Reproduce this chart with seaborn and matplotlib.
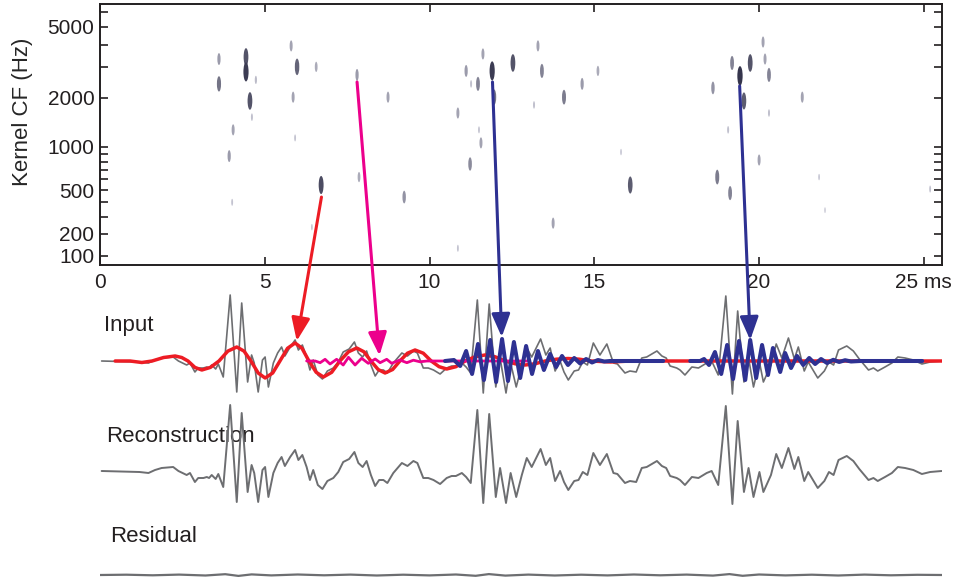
import numpy as np
import pandas as pd
import matplotlib
matplotlib.use('Agg')
import matplotlib.pyplot as plt
from matplotlib.path import Path
from matplotlib.transforms import Affine2D
from matplotlib.colors import LinearSegmentedColormap
import seaborn as sns

# --- spike raster: time (ms), kernel centre frequency (Hz), relative amplitude
spike_t = [3.61, 3.61, 4.43, 4.43, 4.73, 4.55, 4.61, 4.04, 3.92, 4.01,
           5.80, 5.98, 6.56, 5.86, 5.92, 6.71, 7.80, 7.86, 8.74, 9.23,
           11.11, 11.26, 11.47, 10.86, 11.50, 11.23, 10.86, 6.43, 11.62, 11.90,
           11.96, 12.53, 13.29, 13.41, 13.17, 14.08, 14.63, 15.11, 11.56, 13.75,
           16.09, 15.81, 18.60, 19.18, 19.42, 19.54, 19.73, 20.12, 20.18, 20.30,
           20.30, 21.31, 19.06, 18.73, 19.12, 20.00, 21.82, 22.00, 25.19]
spike_f = [3320, 2400, 3410, 2810, 2530, 1910, 1530, 1280, 870, 400,
           3930, 3000, 3000, 2010, 1140, 546, 2700, 624, 2010, 441,
           2845, 2400, 2400, 1620, 1280, 770, 132, 237, 3545, 2845,
           2010, 3155, 3930, 2845, 1810, 2010, 2400, 2845, 1060, 260,
           546, 925, 2275, 3155, 2664, 1910, 3155, 4130, 3320, 2700,
           1620, 2010, 1280, 624, 474, 819, 624, 343, 509]
spike_amp = [0.35, 0.6, 0.8, 0.95, 0.15, 0.8, 0.12, 0.3, 0.35, 0.1,
             0.3, 0.7, 0.25, 0.3, 0.1, 0.85, 0.35, 0.25, 0.3, 0.4,
             0.35, 0.12, 0.5, 0.3, 0.1, 0.45, 0.1, 0.08, 0.3, 0.95,
             0.6, 0.8, 0.3, 0.5, 0.12, 0.55, 0.35, 0.25, 0.3, 0.3,
             0.75, 0.08, 0.4, 0.5, 1.0, 0.75, 0.8, 0.3, 0.3, 0.5,
             0.12, 0.3, 0.12, 0.55, 0.5, 0.3, 0.08, 0.06, 0.1]

# --- reconstruction waveform (ms, amplitude)
rec_t = [0.05, 1.20, 1.47, 1.67, 1.87, 2.22, 2.38, 2.63, 2.73, 2.88,
         2.98, 3.14, 3.24, 3.31, 3.39, 3.51, 3.59, 3.74, 3.95, 4.15,
         4.30, 4.48, 4.60, 4.68, 4.80, 4.93, 5.01, 5.11, 5.26, 5.39,
         5.51, 5.61, 5.77, 5.92, 6.02, 6.14, 6.27, 6.37, 6.47, 6.61,
         6.75, 6.90, 7.08, 7.23, 7.38, 7.56, 7.72, 7.84, 7.97, 8.09,
         8.22, 8.35, 8.47, 8.60, 8.72, 8.90, 9.16, 9.33, 9.51, 9.63,
         9.81, 9.96, 10.12, 10.32, 10.52, 10.67, 10.80, 10.98, 11.11, 11.25,
         11.45, 11.63, 11.81, 12.01, 12.14, 12.32, 12.46, 12.63, 12.80, 12.95,
         13.10, 13.37, 13.53, 13.66, 13.81, 13.96, 14.08, 14.21, 14.39, 14.52,
         14.65, 14.79, 14.97, 15.17, 15.38, 15.58, 15.70, 15.93, 16.08, 16.27,
         16.44, 16.59, 16.90, 17.05, 17.18, 17.30, 17.50, 17.60, 17.75, 17.96,
         18.16, 18.41, 18.56, 18.76, 18.99, 19.19, 19.35, 19.54, 19.68, 19.83,
         20.01, 20.13, 20.36, 20.52, 20.69, 20.89, 21.07, 21.19, 21.37, 21.49,
         21.78, 21.98, 22.12, 22.26, 22.41, 22.66, 22.86, 23.04, 23.32, 23.47,
         23.60, 23.82, 24.03, 24.21, 24.43, 24.68, 24.94, 25.19, 25.54]
rec_a = [0, -1, -2, 1, 3, 4, 0, -4, -2, -11,
         -7, -7, -6, -7, -4, -8, -3, -16, 66, -31,
         58, -21, 6, -2, -31, 1, 4, -26, -2, 8,
         14, 5, 14, 21, 11, 16, 4, -9, 1, -14,
         -18, -10, -7, -1, 9, 12, 19, 8, 4, 10,
         -4, -15, -9, -9, -12, -2, 8, 5, 10, 8,
         -7, -7, -9, -13, -7, -5, -5, -2, -6, -12,
         61, -32, 57, -26, 3, -32, -2, -26, -4, 13,
         4, 22, 6, 13, -10, 0, -11, -19, -10, -9,
         -1, -4, 18, 6, 17, -2, -3, -12, -10, -11,
         3, 4, 10, 5, 3, -5, -7, -9, -14, -6,
         -7, -2, 0, -14, 65, -33, 50, -21, 3, -26,
         -1, -21, -4, 17, 3, 23, 2, 14, -10, -1,
         -17, -10, -1, -4, 11, 15, 10, 2, -9, -7,
         -10, -6, -2, 4, 3, 1, -3, -1, 0]

# --- residual
res_t = [0, 0.8, 1.6, 2.4, 3.2, 3.8, 4.2, 4.6, 5.2, 6.0,
         6.8, 7.6, 8.4, 9.2, 10.0, 10.8, 11.4, 11.8, 12.3, 13.0,
         13.8, 14.6, 15.4, 16.2, 17.0, 17.8, 18.6, 19.1, 19.5, 20.0,
         20.8, 21.6, 22.4, 23.2, 24.0, 24.8, 25.55]
res_a = [0, 0.3, -0.3, 0.4, -0.5, 0.8, -0.9, 0.6, -0.4, 0.5,
         -0.3, 0.4, -0.5, 0.3, -0.4, 0.5, -0.8, 0.9, -0.6, 0.4,
         -0.5, 0.3, -0.4, 0.5, -0.3, 0.4, -0.6, 0.9, -0.8, 0.5,
         -0.4, 0.3, -0.5, 0.4, -0.3, 0.2, 0]

# --- kernels overlaid on the input
red_t = [0.46, 0.91, 1.27,
         1.58, 1.93, 2.28, 2.48, 2.67, 2.88, 3.09, 3.35,
         3.61, 3.88, 4.15, 4.37, 4.58, 4.80, 5.01, 5.24,
         5.46, 5.69, 5.92, 6.13, 6.34, 6.56, 6.78, 7.03,
         7.28, 7.54, 7.79, 8.01, 8.22, 8.44, 8.65, 8.88,
         9.10, 9.33, 9.56, 9.81, 10.05, 10.29, 10.52, 10.80,
         11.08, 11.38, 11.68, 11.99, 12.29, 12.60, 12.90, 13.20,
         13.51, 13.85, 14.20, 14.55, 14.90, 15.50, 16.10, 25.55]
red_a = [0, 0, -1.5,
         0, 3.5, 5, 3.5, 0, -6.4, -9, -6.4,
         0, 9.9, 14, 9.9, 0, -12, -17, -12,
         0, 12.7, 18, 12.7, 0, -11.3, -16, -11.3,
         0, 9.2, 13, 9.2, 0, -8.5, -12, -8.5,
         0, 7.8, 11, 7.8, 0, -5.7, -8, -5.7,
         0, 4.2, 6, 4.2, 0, -2.8, -4, -2.8,
         0, 1.8, 2.5, 1.8, 0, -1, 0, 0]

pink_t = [6.27, 6.53, 6.68, 6.83, 6.98, 7.18, 7.38, 7.54, 7.74, 7.94,
          8.14, 8.35, 8.50, 8.70, 8.85, 9.10, 9.31, 9.51, 9.71, 9.92, 12.99]
pink_a = [0, 0, -1.7, 1.7, -3, 1.7, -4, 3.7, -4, 2.7,
          -2.3, 2, -1.7, 1.7, -2.3, 1, -1.7, 0.8, -0.8, 0, 0]

blue1_t = [10.47, 10.74, 10.93, 11.11, 11.29, 11.47, 11.65, 11.84, 12.02, 12.20,
           12.38, 12.56, 12.75, 12.93, 13.11, 13.29, 13.47, 13.66, 13.84, 14.02,
           14.20, 14.39, 14.57, 14.75, 14.93, 15.11, 15.30, 15.48, 17.09]
blue1_a = [0, 1, -5, 10, -13, 17, -19, 21, -21, 22,
           -20, 19, -17, 15, -13, 10, -9, 7, -6, 5,
           -4, 3, -2.5, 2, -1.5, 1, -0.5, 0, 0]

blue2_t = [17.91, 18.21, 18.33, 18.48, 18.66, 18.85, 19.03, 19.21, 19.39, 19.58,
           19.73, 19.91, 20.09, 20.27, 20.42, 20.64, 20.79, 20.97, 21.15, 21.34,
           21.52, 21.70, 21.88, 22.06, 22.25, 22.43, 22.61, 22.79, 23.07, 24.95]
blue2_a = [0, 0, 2, -4, 9, -13, 16, -18, 20, -19,
           21, -17, 16, -14, 13, -11, 8, -7, 5, -4,
           3, -3, 2, -2, 1.2, -1, 0.8, -0.5, 0, 0]

# arrows: from a spike (ms, Hz) to the kernel in the input (ms, amplitude)
arrow_from_t = [6.72, 7.80, 11.91, 19.41]
arrow_from_f = [441, 2460, 2460, 2333]
arrow_to_t = [5.97, 8.48, 12.19, 19.73]
arrow_to_a = [20, 5.5, 24, 21]

RED, PINK, BLUE, GRAY = '#ED1C24', '#EC008C', '#2E3192', '#6D6E71'
arrow_cols = [RED, PINK, BLUE, BLUE]

sns.set_style('ticks')
plt.rcParams['font.family'] = ['Liberation Sans', 'DejaVu Sans']

W, H = 956, 577
fig = plt.figure(figsize=(W / 100, H / 100), dpi=100)


def rect(l, t, r, b):
    return [l / W, 1 - b / H, (r - l) / W, (b - t) / H]


def erb(f):
    return 21.4 * np.log10(1 + 0.00437 * np.clip(f, 1, None))


def erb_inv(e):
    return (10 ** (np.asarray(e) / 21.4) - 1) / 0.00437


# spike plot
ax = fig.add_axes(rect(100, 4, 942, 265))
ax.set_yscale('function', functions=(erb, erb_inv))

spikes = pd.DataFrame({'t': spike_t, 'f': spike_f, 'amp': spike_amp})
ell = Path.unit_circle().transformed(Affine2D().scale(0.27, 1.0))
cmap = LinearSegmentedColormap.from_list('spk', ['#d2d2de', '#35354c'])
sns.scatterplot(data=spikes, x='t', y='f', hue='amp', size='amp',
                palette=cmap, hue_norm=(0, 1), sizes=(6, 200), size_norm=(0, 1),
                marker=ell, edgecolor='none', linewidth=0, legend=False, ax=ax)

ax.set_xlim(0, 25.55)
ax.set_ylim(66, 6670)
ax.set_xticks([0, 5, 10, 15, 20, 25])
ax.set_xticklabels(['0', '5', '10', '15', '20', '25 ms'])
ax.set_yticks([100, 200, 500, 1000, 2000, 5000])
ax.set_yticklabels(['100', '200', '500', '1000', '2000', '5000'])
ax.set_yticks([300, 400, 600, 700, 800, 900, 3000, 4000, 6000], minor=True)
ax.set_xlabel('')
ax.set_ylabel('Kernel CF (Hz)', fontsize=16)
ax.yaxis.set_label_coords(-0.079, 0.586)
for s in ax.spines.values():
    s.set_linewidth(1.4)
    s.set_color('#231f20')
ax.tick_params(axis='both', which='both', direction='in', length=6, width=1.2,
               labelsize=15, colors='#231f20')
ax.tick_params(axis='x', top=True, pad=6)
ax.tick_params(axis='y', which='both', right=True, pad=4)

# waveform panels
ax_in = fig.add_axes(rect(100, 285, 942, 410))
ax_rec = fig.add_axes(rect(100, 395, 942, 510))
ax_res = fig.add_axes(rect(100, 520, 942, 577))
for a, lo, hi in [(ax_in, -49, 76), (ax_rec, -39, 76), (ax_res, -2, 55)]:
    a.set_xlim(0, 25.55)
    a.set_ylim(lo, hi)
    a.axis('off')
ax_in.set_zorder(5)

sns.lineplot(x=rec_t, y=rec_a, ax=ax_in, color=GRAY, lw=1.2, estimator=None, sort=False)
sns.lineplot(x=red_t, y=red_a, ax=ax_in, color=RED, lw=2.5, estimator=None, sort=False)
sns.lineplot(x=pink_t, y=pink_a, ax=ax_in, color=PINK, lw=2.0, estimator=None, sort=False)
sns.lineplot(x=blue1_t, y=blue1_a, ax=ax_in, color=BLUE, lw=2.9, estimator=None, sort=False)
sns.lineplot(x=blue2_t, y=blue2_a, ax=ax_in, color=BLUE, lw=2.9, estimator=None, sort=False)
sns.lineplot(x=rec_t, y=rec_a, ax=ax_rec, color=GRAY, lw=1.4, estimator=None, sort=False)
sns.lineplot(x=res_t, y=res_a, ax=ax_res, color=GRAY, lw=1.6, estimator=None, sort=False)

for t0, f0, t1, a1, c in zip(arrow_from_t, arrow_from_f, arrow_to_t, arrow_to_a, arrow_cols):
    ax_in.annotate('', xy=(t1, a1), xycoords='data', xytext=(t0, f0),
                   textcoords=ax.transData, annotation_clip=False,
                   arrowprops=dict(arrowstyle='-|>,head_length=0.7,head_width=0.28',
                                   color=c, lw=2.2, shrinkA=0, shrinkB=0,
                                   mutation_scale=20))

for a, txt, x, y in [(ax_in, 'Input', 104, 325), (ax_rec, 'Reconstruction', 106, 436),
                     (ax_res, 'Residual', 110, 537)]:
    a.text(x / W, 1 - y / H, txt, transform=fig.transFigure, ha='left', va='center',
           fontsize=16, color='#231f20', zorder=1)

fig.savefig('out.png', dpi=100)
